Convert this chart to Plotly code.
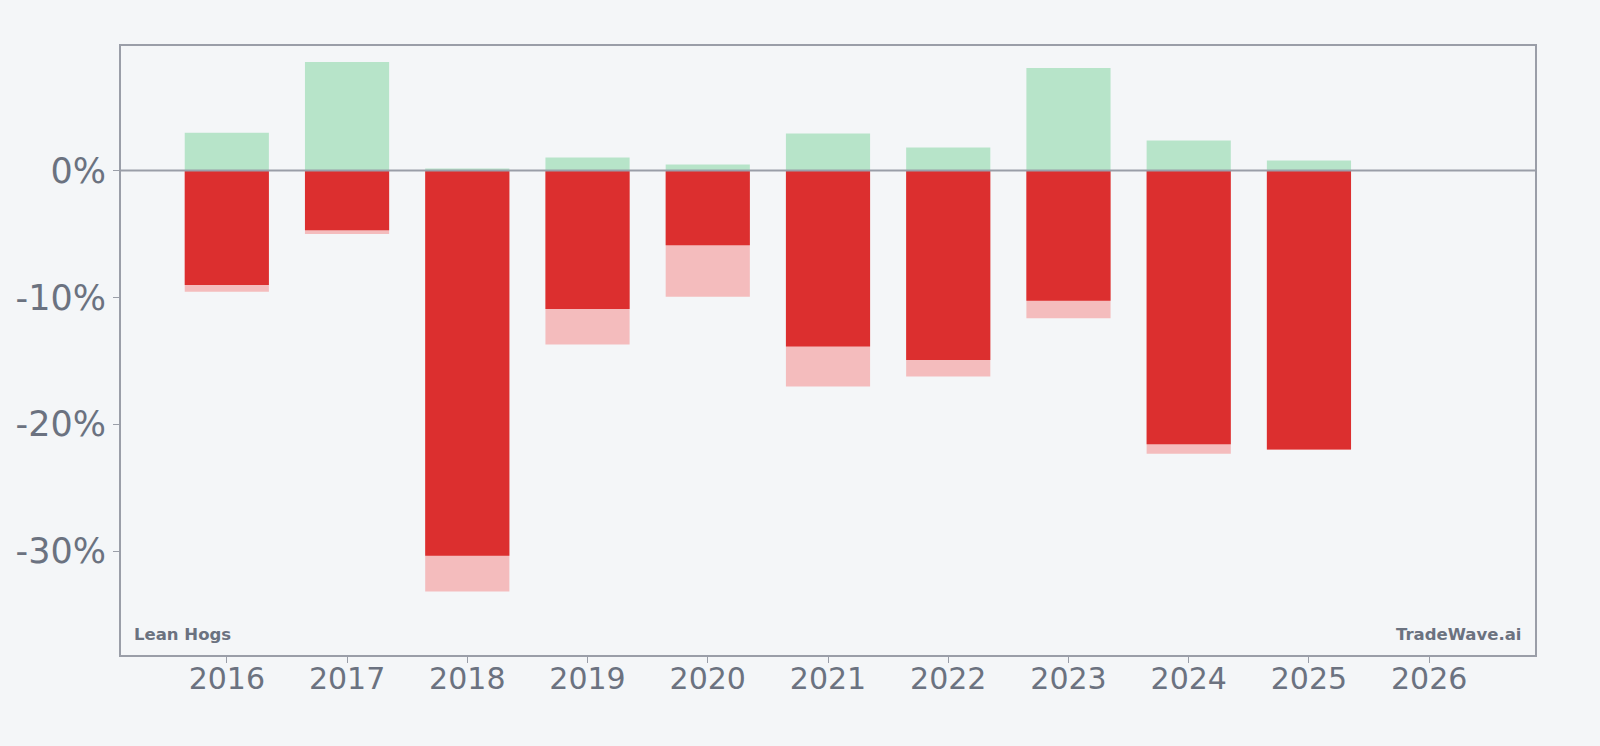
import plotly.graph_objects as go

years = [2016, 2017, 2018, 2019, 2020, 2021, 2022, 2023, 2024, 2025]
max_gain = [2.98, 8.56, 0.16, 1.02, 0.47, 2.93, 1.81, 8.09, 2.36, 0.79]
close_ret = [-9.03, -4.71, -30.38, -10.92, -5.89, -13.88, -14.93, -10.27, -21.58, -22.0]
max_dd = [-9.56, -5.0, -33.2, -13.72, -9.95, -17.02, -16.24, -11.65, -22.33, -22.02]

x_ticks = [2016, 2017, 2018, 2019, 2020, 2021, 2022, 2023, 2024, 2025, 2026]
y_ticks = [0, -10, -20, -30]
y_tick_labels = ["0%", "-10%", "-20%", "-30%"]

BG = "#f4f6f8"
AXIS = "#9a9ea8"
TXT = "#6b7280"

fig = go.Figure()
fig.add_trace(go.Bar(x=years, y=max_dd, marker=dict(color="#f4bcbd", line=dict(width=0)), width=0.7, hoverinfo="skip"))
fig.add_trace(go.Bar(x=years, y=close_ret, marker=dict(color="#dc2f2f", line=dict(width=0)), width=0.7, hoverinfo="skip"))
fig.add_trace(go.Bar(x=years, y=max_gain, marker=dict(color="#b7e4c9", line=dict(width=0)), width=0.7, hoverinfo="skip"))

fig.add_hline(y=0, line=dict(color=AXIS, width=2), layer="above")

fig.update_layout(
    barmode="overlay",
    width=1600, height=746,
    margin=dict(l=121, r=65, t=46, b=91),
    paper_bgcolor=BG, plot_bgcolor=BG,
    showlegend=False,
    font=dict(family="DejaVu Sans", color=TXT),
    xaxis=dict(
        range=[2015.12, 2026.88], tickvals=x_ticks, ticktext=[str(v) for v in x_ticks],
        showgrid=False, zeroline=False, showline=True, mirror=True, linecolor=AXIS, linewidth=2,
        ticks="outside", ticklen=6, tickcolor=AXIS, tickwidth=1, ticklabelstandoff=-10,
        tickfont=dict(size=30, color=TXT, family="DejaVu Sans"),
    ),
    yaxis=dict(
        range=[-38.2, 9.82], tickvals=y_ticks, ticktext=y_tick_labels,
        showgrid=False, zeroline=False, showline=True, mirror=True, linecolor=AXIS, linewidth=2,
        ticks="outside", ticklen=6, tickcolor=AXIS, tickwidth=1,
        tickfont=dict(size=35, color=TXT, family="DejaVu Sans"),
    ),
    annotations=[
        dict(text="<b>Lean Hogs</b>", xref="paper", yref="paper", x=0.008, y=0.015,
             xanchor="left", yanchor="bottom", showarrow=False,
             font=dict(size=16.5, color=TXT, family="DejaVu Sans")),
        dict(text="<b>TradeWave.ai</b>", xref="paper", yref="paper", x=0.9915, y=0.015,
             xanchor="right", yanchor="bottom", showarrow=False,
             font=dict(size=16.5, color=TXT, family="DejaVu Sans")),
    ],
)

fig.write_html("out.html")
